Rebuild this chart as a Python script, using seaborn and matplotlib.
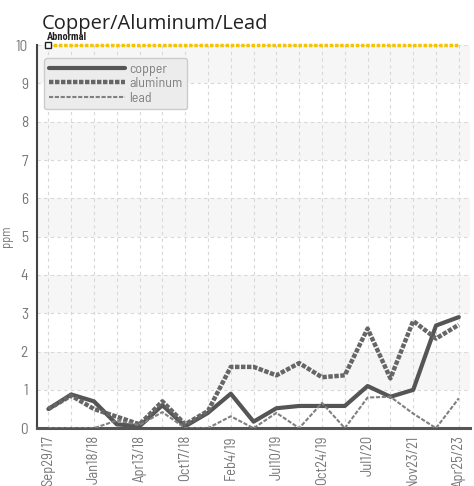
import numpy as np
import pandas as pd
import matplotlib
matplotlib.use("Agg")
import matplotlib.pyplot as plt
import seaborn as sns

# sample index (19 samples), every other one labelled
tick_labels = ["Sep29/17", "Jan18/18", "Apr13/18", "Oct17/18", "Feb4/19",
               "Jul10/19", "Oct24/19", "Jul1/20", "Nov23/21", "Apr25/23"]
copper = [0.5, 0.88, 0.7, 0.1, 0.05, 0.6, 0.05, 0.4, 0.9, 0.17,
          0.52, 0.58, 0.58, 0.58, 1.1, 0.82, 1.0, 2.68, 2.9]
aluminum = [0.5, 0.85, 0.5, 0.3, 0.1, 0.7, 0.1, 0.45, 1.6, 1.6,
            1.38, 1.7, 1.33, 1.38, 2.6, 1.3, 2.8, 2.34, 2.7]
lead = [0.0, 0.0, 0.0, 0.2, 0.08, 0.42, 0.0, 0.0, 0.31, 0.0,
        0.4, 0.0, 0.66, 0.0, 0.8, 0.82, 0.38, 0.0, 0.78]
abnormal = 10

sample = np.arange(len(copper))
df = pd.DataFrame({"sample": np.tile(sample, 3),
                   "ppm": copper + aluminum + lead,
                   "metal": ["copper"] * len(copper) + ["aluminum"] * len(aluminum) + ["lead"] * len(lead)})

sns.set_style("white")
plt.rcParams['font.family'] = ['Barlow Semi Condensed', 'DejaVu Sans']

fig = plt.figure(figsize=(4.74, 4.86), dpi=100)
ax = fig.add_axes([0.078, 0.119, 0.914, 0.788])

# alternating background bands
for lo in range(1, 10, 2):
    ax.axhspan(lo, lo + 1, color="#f6f6f6", zorder=0, lw=0)

styles = {"copper": dict(color="#555555", lw=3.0, ls="-"),
          "aluminum": dict(color="#666666", lw=3.2, ls=(0, (1.0, 0.35))),
          "lead": dict(color="#808080", lw=1.5, ls=(0, (2.0, 0.8)))}
for metal in ["copper", "aluminum", "lead"]:
    st = styles[metal]
    sns.lineplot(data=df[df.metal == metal], x="sample", y="ppm", ax=ax,
                 color=st["color"], linewidth=st["lw"], linestyle=st["ls"],
                 label=metal, zorder=3)

# abnormal limit
ax.plot([sample[0], sample[-1]], [abnormal, abnormal], color="#f5c400", lw=2.5,
        ls=(0, (1.0, 0.5)), zorder=4, clip_on=False)
ax.plot([sample[0]], [abnormal], marker="s", ms=4, mfc="white", mec="#222222",
        mew=1, zorder=5, clip_on=False)
ax.annotate("Abnormal", (sample[0], abnormal), xytext=(-1, 2.5), textcoords="offset points",
            fontsize=7.5, fontweight="bold", color="#222222", ha="left", va="bottom",
            fontfamily="Roboto Condensed")

ax.set_xlim(-0.5, len(sample) - 0.5)
ax.set_ylim(0, 10)
ax.set_yticks(range(0, 11))
ax.set_xticks(sample[::2])
ax.set_xticks(sample[1::2], minor=True)
ax.set_xticklabels(tick_labels, rotation=90)
ax.tick_params(axis="both", which="major", direction="inout", length=6, width=1,
               color="#444444", labelcolor="#777777", labelsize=11)
ax.tick_params(axis="x", which="major", pad=2, labelsize=10.5)
ax.tick_params(axis="x", which="minor", length=0)
ax.grid(True, which="both", axis="x", color="#d8d8d8", ls=(0, (3, 3)), lw=0.8)
ax.grid(True, which="major", axis="y", color="#d8d8d8", ls=(0, (3, 3)), lw=0.8)
ax.set_axisbelow(True)

for s in ["top", "right"]:
    ax.spines[s].set_visible(False)
ax.spines["left"].set_color("#444444")
ax.spines["left"].set_linewidth(1.5)
ax.spines["bottom"].set_color("#555555")
ax.spines["bottom"].set_linewidth(2.2)

ax.set_xlabel("")
ax.set_ylabel("ppm", color="#777777", fontsize=9, labelpad=2)
ax.set_title("Copper/Aluminum/Lead", loc="left", fontsize=14.5, color="#222222",
             x=0.01, pad=12, fontfamily="Open Sans")

leg = ax.legend(loc="upper left", bbox_to_anchor=(0.0, 0.985), handlelength=5.5,
                fontsize=10, frameon=True, fancybox=True, framealpha=1,
                borderpad=0.35, labelspacing=0.1, handletextpad=0.3)
leg.get_frame().set_facecolor("#ececec")
leg.get_frame().set_edgecolor("#cccccc")
for t in leg.get_texts():
    t.set_color("#808080")

fig.savefig("out.png", dpi=100)
